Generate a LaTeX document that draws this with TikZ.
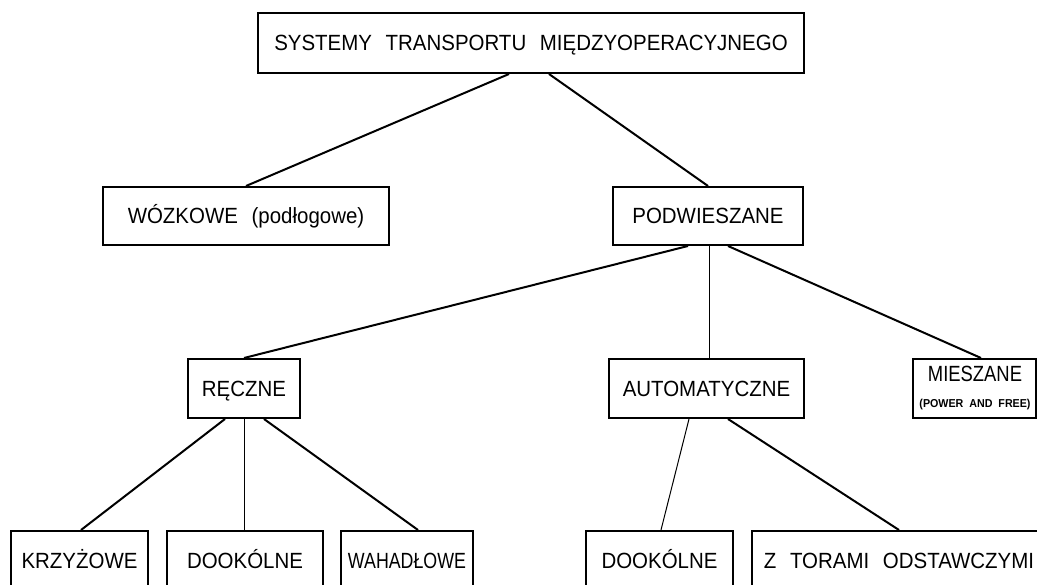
\documentclass[tikz,border=0pt]{standalone}
\usepackage{fontspec}
\setmainfont{Liberation Sans}[FakeStretch=0.93]
\usetikzlibrary{calc}
\newcommand{\wgap}{\hspace{0.62em}}
\begin{document}
\begin{tikzpicture}[x=1pt,y=-1pt,
  box/.style={draw,line width=2pt,anchor=north west,inner sep=0pt,
    text height=15.8pt,text depth=0pt,
    font=\fontsize{22}{26}\selectfont},
  lbl/.style={inner sep=0pt,text height=15.8pt,text depth=0pt,
    font=\fontsize{22}{26}\selectfont},
  conn/.style={line width=2pt},
  thinconn/.style={line width=1pt}]
\useasboundingbox (0,0) rectangle (1037,585);
\clip (0,0) rectangle (1037,585);
\fill[white] (0,0) rectangle (1037,585);
% boxes
\node[box,minimum width=546pt,minimum height=60pt] (top) at (257,12)
  {SYSTEMY\wgap TRANSPORTU\wgap MIĘDZYOPERACYJNEGO};
\node[box,minimum width=286pt,minimum height=58pt] (woz) at (102,186)
  {WÓZKOWE\wgap (podłogowe)};
\node[box,minimum width=190pt,minimum height=58pt] (podw) at (612,186) {PODWIESZANE};
\node[box,minimum width=112pt,minimum height=59pt] (recz) at (187,358) {RĘCZNE};
\node[box,minimum width=195pt,minimum height=59pt] (auto) at (608,358) {AUTOMATYCZNE};
\node[box,minimum width=123pt,minimum height=59pt] (mies) at (912,358) {};
\node[lbl] (miesT) at (975,374) {\scalebox{0.9}[1]{MIESZANE}};
\node[inner sep=0pt,font=\fontsize{11.5}{13}\selectfont\bfseries] (miesS) at (975,405)
  {(POWER\ \ AND\ \ FREE)};
\node[box,minimum width=137pt,minimum height=60pt] (krzy) at (10,530) {KRZYŻOWE};
\node[box,minimum width=156pt,minimum height=60pt] (dook1) at (166,530) {DOOKÓLNE};
\node[box,minimum width=132pt,minimum height=60pt] (wahad) at (340,530)
  {\scalebox{0.87}[1]{WAHADŁOWE}};
\node[box,minimum width=147pt,minimum height=60pt] (dook2) at (585,530) {DOOKÓLNE};
\node[box,minimum width=294pt,minimum height=60pt] (ztor) at (751,530)
  {Z\wgap TORAMI\wgap ODSTAWCZYMI};
% connectors
\draw[conn] ([xshift=-22pt]top.south) -- (woz.north);
\draw[conn] ([xshift=18pt]top.south) -- (podw.north);
\draw[conn] ([xshift=-20pt]podw.south) -- (recz.north);
\draw[thinconn] ([xshift=1pt]podw.south) -- ([xshift=1pt]podw.south |- auto.north);
\draw[conn] ([xshift=20pt]podw.south) -- ([xshift=6.5pt]mies.north);
\draw[conn] ([xshift=-19pt]recz.south) -- ([xshift=1.5pt]krzy.north);
\draw[thinconn] (recz.south) -- (recz.south |- dook1.north);
\draw[conn] ([xshift=20pt]recz.south) -- ([xshift=11pt]wahad.north);
\draw[thinconn] ([xshift=-17.5pt]auto.south) -- ([xshift=1.5pt]dook2.north);
\draw[conn] ([xshift=21.5pt]auto.south) -- (ztor.north);
\end{tikzpicture}
\end{document}
